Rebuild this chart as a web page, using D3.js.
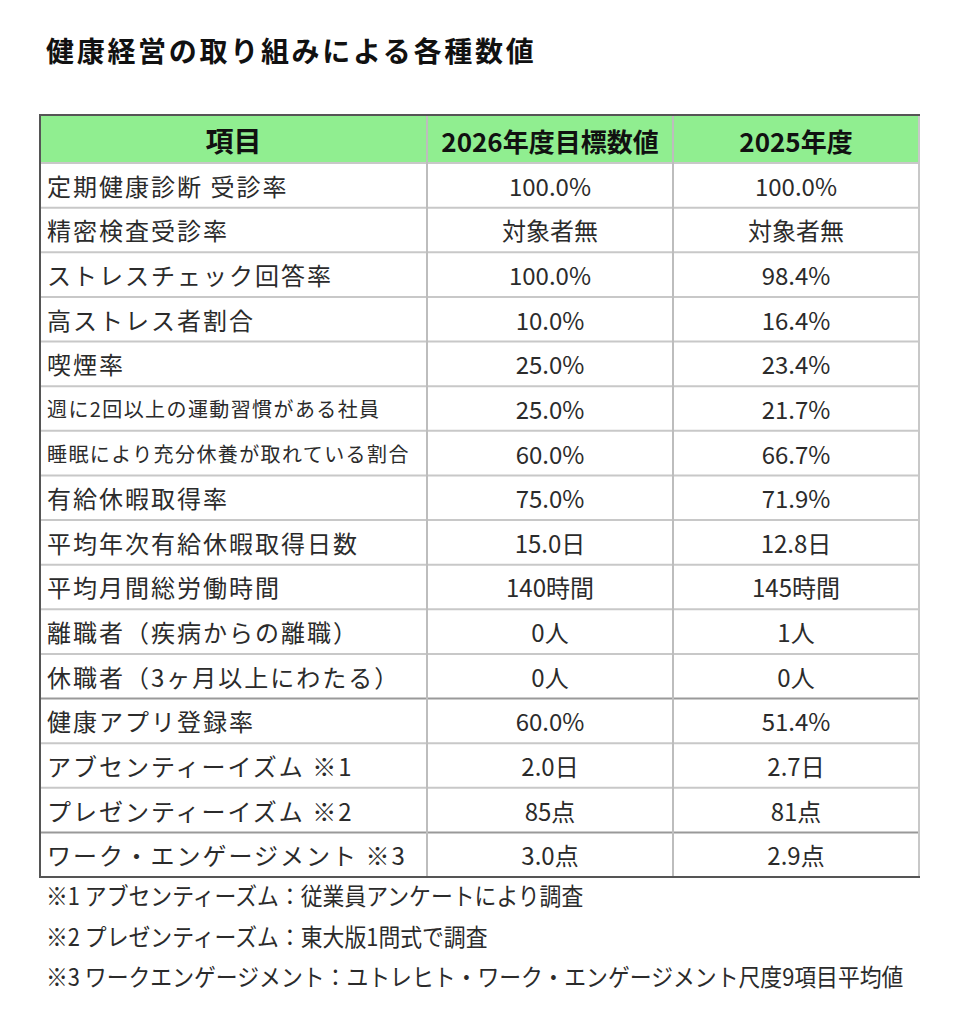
<!DOCTYPE html>
<html>
<head>
<meta charset="utf-8">
<script src="https://cdn.jsdelivr.net/npm/d3@7"></script>
<style>
  body { margin: 0; background: #fff; }
  svg { display: block; }
  text { font-family: "Noto Sans CJK JP", "Noto Sans", sans-serif; }
</style>
</head>
<body>
<svg id="table" width="960" height="1024"></svg>
<script>

// table contents
var title = "健康経営の取り組みによる各種数値";
var headers = ["項目", "2026年度目標数値", "2025年度"];
var items = [
  "定期健康診断 受診率",
  "精密検査受診率",
  "ストレスチェック回答率",
  "高ストレス者割合",
  "喫煙率",
  "週に2回以上の運動習慣がある社員",
  "睡眠により充分休養が取れている割合",
  "有給休暇取得率",
  "平均年次有給休暇取得日数",
  "平均月間総労働時間",
  "離職者（疾病からの離職）",
  "休職者（3ヶ月以上にわたる）",
  "健康アプリ登録率",
  "アブセンティーイズム ※1",
  "プレゼンティーイズム ※2",
  "ワーク・エンゲージメント ※3"
];
var target2026 = ["100.0%", "対象者無", "100.0%", "10.0%", "25.0%", "25.0%", "60.0%", "75.0%",
  "15.0日", "140時間", "0人", "0人", "60.0%", "2.0日", "85点", "3.0点"];
var actual2025 = ["100.0%", "対象者無", "98.4%", "16.4%", "23.4%", "21.7%", "66.7%", "71.9%",
  "12.8日", "145時間", "1人", "0人", "51.4%", "2.7日", "81点", "2.9点"];
var notes = [
  "※1 アブセンティーズム：従業員アンケートにより調査",
  "※2 プレゼンティーズム：東大版1問式で調査",
  "※3 ワークエンゲージメント：ユトレヒト・ワーク・エンゲージメント尺度9項目平均値"
];

// layout
var left = 40, right = 919, headTop = 115, headBottom = 163, bodyBottom = 877;
var colEdges = [left, 427, 673, right];
var groupBreaks = [12, 15]; // darker rules above these rows

var svg = d3.select("#table");

var y = d3.scaleBand()
  .domain(d3.range(items.length))
  .range([headBottom, bodyBottom]);

var colMid = function(i) { return (colEdges[i] + colEdges[i + 1]) / 2; };

// title
svg.append("text")
  .attr("x", 46)
  .attr("y", 50)
  .attr("dominant-baseline", "central")
  .attr("font-size", 28)
  .attr("font-weight", "bold")
  .attr("letter-spacing", 2.7)
  .attr("fill", "#111")
  .text(title);

// header
svg.append("rect")
  .attr("x", left).attr("y", headTop)
  .attr("width", right - left).attr("height", headBottom - headTop)
  .attr("fill", "#90ee90");

svg.selectAll("text.head")
  .data(headers)
  .enter()
  .append("text")
    .attr("class", "head")
    .attr("x", function(d, i) { return colMid(i); })
    .attr("y", (headTop + headBottom) / 2 + 1)
    .attr("text-anchor", "middle")
    .attr("dominant-baseline", "central")
    .attr("font-size", function(d, i) { return i === 0 ? 28 : 26; })
    .attr("font-weight", "bold")
    .attr("fill", "#111")
    .text(function(d) { return d; });

// body rows
var rows = svg.selectAll("g.row")
  .data(items)
  .enter()
  .append("g")
    .attr("class", "row")
    .attr("transform", function(d, i) { return "translate(0," + (y(i) + y.bandwidth() / 2) + ")"; });

rows.append("text")
  .attr("class", "label")
  .attr("x", 47)
  .attr("dominant-baseline", "central")
  .attr("font-size", 24)
  .attr("letter-spacing", 2)
  .attr("fill", "#2b2b2b")
  .text(function(d) { return d; })
  .each(function() {
    // shrink labels that would not fit in the first column
    var t = d3.select(this);
    if (this.getComputedTextLength() > colEdges[1] - 60) {
      t.attr("font-size", 20).attr("letter-spacing", 1.4);
    }
  });

rows.append("text")
  .attr("x", colMid(1))
  .attr("text-anchor", "middle")
  .attr("dominant-baseline", "central")
  .attr("font-size", 24)
  .attr("fill", "#2b2b2b")
  .text(function(d, i) { return target2026[i]; });

rows.append("text")
  .attr("x", colMid(2))
  .attr("text-anchor", "middle")
  .attr("dominant-baseline", "central")
  .attr("font-size", 24)
  .attr("fill", "#2b2b2b")
  .text(function(d, i) { return actual2025[i]; });

// grid lines
var lines = svg.append("g").attr("fill", "none");

lines.selectAll("line.h")
  .data(d3.range(1, items.length))
  .enter()
  .append("line")
    .attr("x1", left).attr("x2", right)
    .attr("y1", function(i) { return y(i); })
    .attr("y2", function(i) { return y(i); })
    .attr("stroke", function(i) { return groupBreaks.indexOf(i) >= 0 ? "#999" : "#c8c8c8"; })
    .attr("stroke-width", 2);

lines.append("line")
  .attr("x1", left).attr("x2", right)
  .attr("y1", headBottom).attr("y2", headBottom)
  .attr("stroke", "#c8c8c8").attr("stroke-width", 2);

lines.selectAll("line.v")
  .data(colEdges.slice(1, 3))
  .enter()
  .append("line")
    .attr("x1", function(d) { return d; })
    .attr("x2", function(d) { return d; })
    .attr("y1", headTop).attr("y2", bodyBottom)
    .attr("stroke", "#bdbdbd").attr("stroke-width", 2);

lines.append("line")
  .attr("x1", right).attr("x2", right)
  .attr("y1", headTop).attr("y2", bodyBottom)
  .attr("stroke", "#c8c8c8").attr("stroke-width", 2);

lines.append("line")
  .attr("x1", left - 1).attr("x2", right + 1)
  .attr("y1", headTop).attr("y2", headTop)
  .attr("stroke", "#555").attr("stroke-width", 2);

lines.append("line")
  .attr("x1", left - 1).attr("x2", right + 1)
  .attr("y1", bodyBottom).attr("y2", bodyBottom)
  .attr("stroke", "#555").attr("stroke-width", 2);

lines.append("line")
  .attr("x1", left).attr("x2", left)
  .attr("y1", headTop).attr("y2", bodyBottom)
  .attr("stroke", "#555").attr("stroke-width", 2);

// footnotes, narrow face
svg.selectAll("text.note")
  .data(notes)
  .enter()
  .append("text")
    .attr("class", "note")
    .attr("transform", function(d, i) { return "translate(46," + (895 + i * 40.5) + ") scale(0.91,1)"; })
    .attr("dominant-baseline", "central")
    .attr("font-size", 24)
    .attr("fill", "#2b2b2b")
    .text(function(d) { return d; });

</script>
</body>
</html>
